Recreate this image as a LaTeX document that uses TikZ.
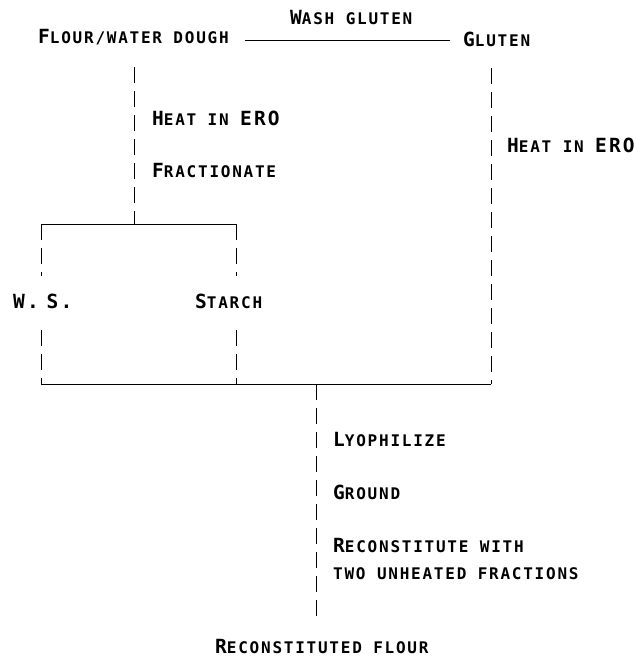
\documentclass[tikz,border=0pt]{standalone}
\usepackage{fontspec}
\newfontfamily\typefont[LetterSpace=11]{DejaVu Sans Mono Bold}
\usetikzlibrary{positioning}
\newcommand{\capbig}[1]{{\fontsize{19.5}{22}\selectfont #1}}
\newcommand{\capsmall}[1]{{\fontsize{16}{18}\selectfont #1}}
\tikzset{
	lbl/.style={inner sep=0pt, anchor=base west, text height=13pt, text depth=5pt, font=\typefont},
	dashline/.style={line width=0.9pt, dash pattern=on 16pt off 8pt},
	solidline/.style={line width=0.8pt}
}
\begin{document}
\begin{tikzpicture}[x=1pt,y=-1pt]
			\useasboundingbox (0,0) rectangle (637,658);
			% Top row
			\node[lbl] (dough) at (38,44) {\capbig{F}\capsmall{LOUR/WATER DOUGH}};
			\node[lbl] (gluten) at (463,47) {\capbig{G}\capsmall{LUTEN}};
			\node[lbl] (wash) at (290,25) {\capbig{W}\capsmall{ASH GLUTEN}};
			\draw[solidline, shorten <=16pt, shorten >=13pt] (dough.east) -- (dough.east -| gluten.west);
			% Left branch
			\coordinate (split) at (134,224);
			\coordinate (wsTop) at (41,224);
			\coordinate (stTop) at (236,224);
			\coordinate (wsBot) at (41,384);
			\coordinate (stBot) at (236,384);
			\coordinate (glBot) at (491,384);
			\coordinate (merge) at (316,384);
			\coordinate (flourTop) at (316,623);
			\draw[dashline] (split |- 0,67) -- (split);
			\node[lbl] (heatA) at (152,125) {\capbig{H}\capsmall{EAT IN }\capbig{ERO}};
			\node[lbl] (fract) at (152,177) {\capbig{F}\capsmall{RACTIONATE}};
			\draw[solidline] (wsTop) -- (stTop);
			\node[lbl] (ws) at (13,308) {\capbig{W.\hspace{-6pt} S.}};
			\node[lbl] (starch) at (195,308) {\capbig{S}\capsmall{TARCH}};
			\draw[dashline] (wsTop) -- (41,276);
			\draw[dashline] (41,330) -- (wsBot);
			\draw[dashline] (stTop) -- (236,276);
			\draw[dashline] (236,330) -- (stBot);
			% Right branch
			\draw[dashline] (glBot |- 0,68) -- (glBot);
			\node[lbl] (heatB) at (507,152) {\capbig{H}\capsmall{EAT IN }\capbig{ERO}};
			% Merge
			\draw[solidline] (wsBot) -- (glBot);
			\draw[dashline] (merge) -- (flourTop);
			\node[lbl] (lyo) at (333,446) {\capbig{L}\capsmall{YOPHILIZE}};
			\node[lbl] (ground) at (333,499) {\capbig{G}\capsmall{ROUND}};
			\node[lbl] (reconA) at (333,552) {\capbig{R}\capsmall{ECONSTITUTE WITH}};
			\node[lbl] (reconB) at (333,579) {\capsmall{TWO UNHEATED FRACTIONS}};
			\node[lbl] (flour) at (215,653) {\capbig{R}\capsmall{ECONSTITUTED FLOUR}};
\end{tikzpicture}
\end{document}
